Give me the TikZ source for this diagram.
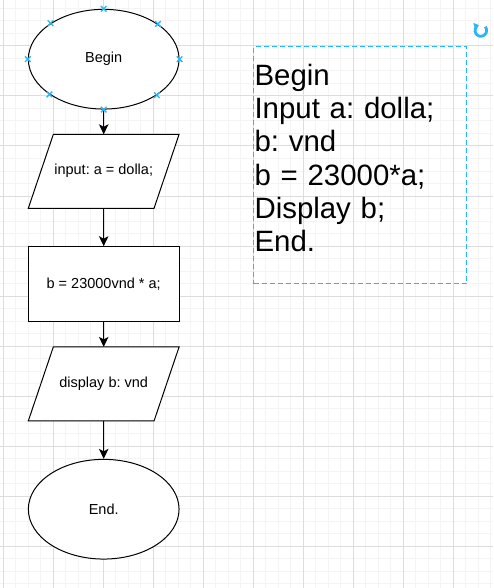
\documentclass[tikz,border=0pt]{standalone}
\usepackage{fontspec}
\setmainfont{Liberation Sans}
\usetikzlibrary{shapes.geometric,arrows.meta}
\definecolor{selblue}{RGB}{41,182,242}
\definecolor{gridmajor}{RGB}{221,221,221}
\definecolor{gridminor}{RGB}{244,244,244}
\frenchspacing
\begin{document}
\begin{tikzpicture}[x=1pt,y=-1pt,line width=1pt,
  >={Stealth[length=10pt,width=9.5pt,inset=2.5pt]}]
  \useasboundingbox (0,0) rectangle (493,588);
  \fill[white] (0,0) rectangle (493,588);
  \foreach \i in {0,...,39}
    \draw[gridminor] (3.3+12.5*\i,0) -- (3.3+12.5*\i,588);
  \foreach \j in {0,...,46}
    \draw[gridminor] (0,8.5+12.5*\j) -- (493,8.5+12.5*\j);
  \foreach \i in {0,...,9}
    \draw[gridmajor] (3.3+50*\i,0) -- (3.3+50*\i,588);
  \foreach \j in {1,...,11}
    \draw[gridmajor] (0,-4+50*\j) -- (493,-4+50*\j);

  \begin{scope}[font=\fontsize{14.5}{17}\selectfont]
    \tikzstyle{every node}=[draw,fill=white,inner sep=0pt,minimum width=150.7pt]
    \tikzstyle{terminal}=[ellipse,minimum height=99.7pt]
    \tikzstyle{io}=[trapezium,trapezium left angle=71.3,trapezium right angle=108.7,
      minimum width=0pt,minimum height=0pt,
      text height=10.5pt,text depth=3.5pt,inner xsep=0.35pt,inner ysep=30pt,
      outer sep=0pt]
    \tikzstyle{process}=[rectangle,minimum height=75pt]
    \node[terminal] (begin)   at (103.7,59.2)  {Begin};
    \node[io]       (input)   at (103.7,171.3) {\makebox[100pt]{input: a = dolla;}};
    \node[process]  (calc)    at (103.7,284.2) {b = 23000vnd * a;};
    \node[io]       (display) at (103.7,383.9) {\makebox[100pt]{display b: vnd}};
    \node[terminal] (end)     at (103.7,509.2) {End.};
  \end{scope}
  \draw[->] (begin) -- (input);
  \draw[->] (input) -- (calc);
  \draw[->] (calc) -- (display);
  \draw[->] (display) -- (end);

  \foreach \a in {0,33.6,90,146.4,180,213.6,270,326.4}
    \draw[selblue,line width=1.3pt] (begin.\a) +(-2.8,-2.8) -- +(2.8,2.8)
      +(-2.8,2.8) -- +(2.8,-2.8);

  \tikzstyle{codebox}=[draw=selblue,dash pattern=on 5pt off 3pt,
    minimum width=212.7pt,minimum height=237.3pt,text width=211.5pt,
    inner xsep=0.6pt,inner ysep=0pt,align=left,
    font=\fontsize{29.4}{33.3}\selectfont]
  \node[codebox] (code) at (360.3,165.3)
    {Begin\\Input a: dolla;\\b: vnd\\b = 23000*a;\\Display b;\\End.\rule[-15pt]{0pt}{0pt}};

  \draw[selblue,line width=2.8pt,-{Triangle[length=4.5pt,width=7.5pt]}]
    (480.8,30.5) ++(-40:5.8) arc[start angle=-40,end angle=250,radius=5.8];
\end{tikzpicture}
\end{document}
